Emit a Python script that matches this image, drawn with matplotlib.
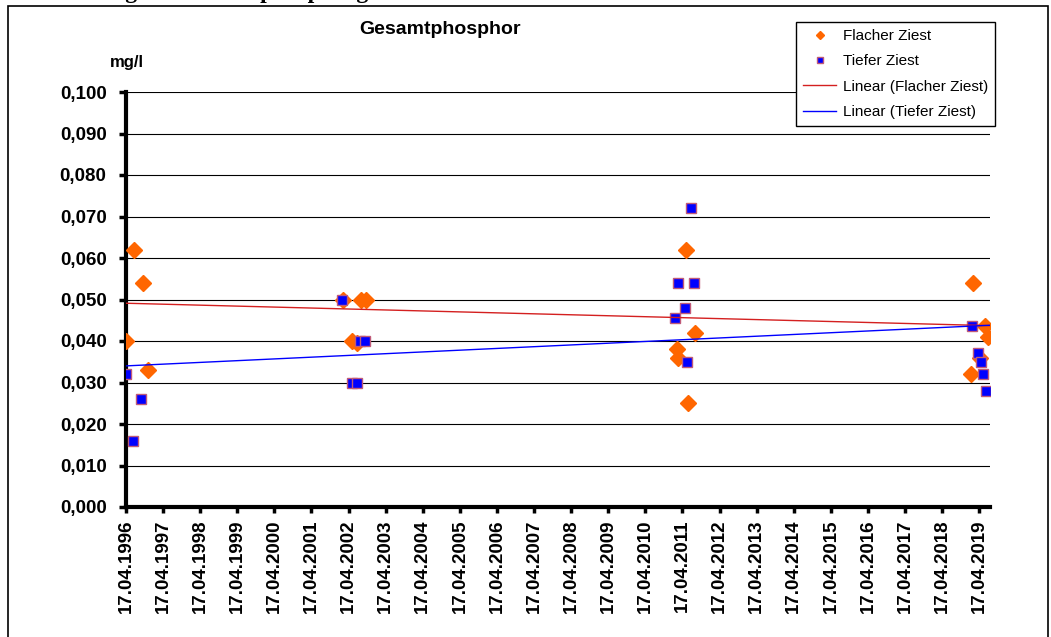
#Gesamtphosphor - Flacher / Tiefer Ziest
#scatter of measured values with linear trend lines

import numpy as np #numpy for math
import matplotlib
matplotlib.use("Agg")
import matplotlib.pyplot as plt #plotting
import matplotlib.dates as mdates #date axis
from matplotlib.patches import Rectangle
from matplotlib.ticker import FuncFormatter
from datetime import datetime

#data
flach_dates = ["1996-04-17", "1996-07-05", "1996-10-01", "1996-11-17",
               "2002-02-20", "2002-05-20", "2002-07-08", "2002-08-15", "2002-10-04",
               "2011-05-18", "2011-08-14", "2011-02-20", "2011-03-03", "2011-06-08",
               "2019-02-14", "2019-06-13", "2019-07-12", "2019-01-26", "2019-04-23"]
flach_vals = [0.040, 0.062, 0.054, 0.033,
              0.050, 0.040, 0.0395, 0.050, 0.050,
              0.062, 0.042, 0.038, 0.036, 0.025,
              0.054, 0.0435, 0.041, 0.032, 0.036]

tief_dates = ["1996-04-17", "1996-06-25", "1996-09-13",
              "2002-02-10", "2002-08-07", "2002-09-24", "2002-05-20", "2002-07-08",
              "2011-07-08", "2011-03-03", "2011-08-07", "2011-05-10", "2011-02-02", "2011-05-28",
              "2019-02-03", "2019-04-05", "2019-05-05", "2019-05-23", "2019-06-21"]
tief_vals = [0.032, 0.016, 0.026,
             0.050, 0.040, 0.040, 0.030, 0.030,
             0.072, 0.054, 0.054, 0.048, 0.0455, 0.035,
             0.0435, 0.037, 0.035, 0.032, 0.028]

#linear trend lines (start / end as drawn)
trend_dates = ["1996-04-17", "2019-07-31"]
flach_trend = [0.0491, 0.0437]
tief_trend = [0.0340, 0.0438]

tick_years = list(range(1996, 2020))
y_ticks = [0.00, 0.01, 0.02, 0.03, 0.04, 0.05, 0.06, 0.07, 0.08, 0.09, 0.10]

def to_dt(lst):
    return [datetime.strptime(s, "%Y-%m-%d") for s in lst]

plt.rcParams['font.family'] = ['Liberation Sans', 'DejaVu Sans']

fig = plt.figure(figsize=(10.51, 6.37), dpi=100)
ax = fig.add_axes([126/1051, 1-507/637, (990-126)/1051, (507-92)/637])

#points
ax.plot(to_dt(flach_dates), flach_vals, linestyle="none", marker="D", markersize=8,
        color="#ff6600", markeredgecolor="#ff6600", label="Flacher Ziest", zorder=3)
ax.plot(to_dt(tief_dates), tief_vals, linestyle="none", marker="s", markersize=7.5,
        markerfacecolor="#0000ff", markeredgecolor="#c05a78", markeredgewidth=1.0,
        label="Tiefer Ziest", zorder=4)

#trend lines
ax.plot(to_dt(trend_dates), flach_trend, color="#d42020", lw=1.0,
        label="Linear (Flacher Ziest)", zorder=5)
ax.plot(to_dt(trend_dates), tief_trend, color="#0000ff", lw=1.0,
        label="Linear (Tiefer Ziest)", zorder=5)

#axes
ax.set_xlim(datetime(1996, 4, 17), datetime(2019, 7, 31))
ax.set_ylim(0, 0.1)
ax.set_yticks(y_ticks)
ax.yaxis.set_major_formatter(FuncFormatter(lambda v, p: ("%.3f" % v).replace(".", ",")))
ax.set_xticks([datetime(y, 4, 17) for y in tick_years])
ax.xaxis.set_major_formatter(mdates.DateFormatter("%d.%m.%Y"))
for lab in ax.get_xticklabels():
    lab.set_rotation(90)
ax.tick_params(axis="y", length=5, width=2.5, pad=9, labelsize=13.5)
ax.tick_params(axis="x", length=4, width=2.5, pad=5, labelsize=13.5)
for lab in ax.get_xticklabels() + ax.get_yticklabels():
    lab.set_fontweight("bold")

#grid lines
for v in y_ticks[1:]:
    ax.axhline(v, color="black", lw=0.8, zorder=1)

for s in ["top", "right"]:
    ax.spines[s].set_visible(False)
ax.spines["left"].set_linewidth(3)
ax.spines["bottom"].set_linewidth(3)
ax.patch.set_visible(False)

#texts
fig.text(440/1051, 1-29/637, "Gesamtphosphor", ha="center", va="center",
         fontsize=14, fontweight="bold")
fig.text(127/1051, 1-62/637, "mg/l", ha="center", va="center",
         fontsize=12, fontweight="bold")
#heading above the chart, cut off at the top edge like in the original
fig.text(8/1051, 1+2/637, "Entwicklung der Gesamtphosphorgehalte", ha="left", va="baseline",
         fontsize=17, fontweight="bold", family="Liberation Serif")

#legend
leg = fig.legend(loc="upper left", bbox_to_anchor=(796/1051, 1-22/637), fontsize=11,
                 frameon=True, fancybox=False, edgecolor="black", framealpha=1,
                 handlelength=2.2, handletextpad=0.4, labelspacing=0.75,
                 borderpad=0.45, borderaxespad=0, markerscale=0.55)
leg.get_frame().set_linewidth(1.0)

#outer frame
fig.patches.append(Rectangle((8/1051, -0.02), (1048-8)/1051, 1-6/637+0.02,
                             transform=fig.transFigure, fill=False,
                             edgecolor="black", lw=1.2))

fig.savefig("out.png", dpi=100)
